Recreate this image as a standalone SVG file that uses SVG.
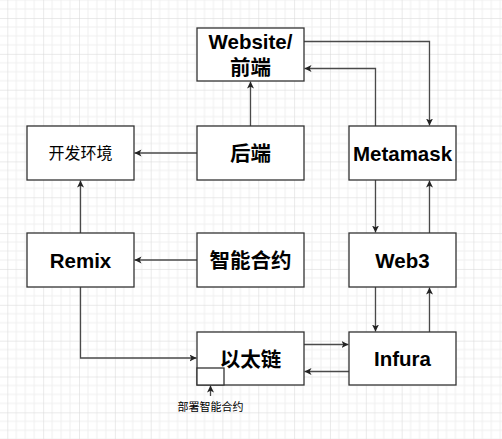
<svg xmlns="http://www.w3.org/2000/svg" width="502" height="439" viewBox="0 0 502 439">
<style>
.box{fill:#fff;stroke:#333;stroke-width:1.3}
.t{font-family:"Liberation Sans","Noto Sans CJK SC",sans-serif;font-weight:bold;font-size:20.5px;fill:#000;text-anchor:middle}
.s{font-family:"Liberation Sans","Noto Sans CJK SC",sans-serif;font-size:16px;fill:#000;text-anchor:middle}
.lbl{font-family:"Liberation Sans","Noto Sans CJK SC",sans-serif;font-size:11px;fill:#000;text-anchor:middle}
.c{fill:none;stroke:#4a4a4a;stroke-width:1.3;marker-end:url(#ah)}
</style>
<defs>
<pattern id="grid" patternUnits="userSpaceOnUse" x="7.3" y="18" width="35.85" height="35.85">
<path d="M8.96,0V35.85M17.93,0V35.85M26.89,0V35.85M0,8.96H35.85M0,17.93H35.85M0,26.89H35.85" stroke="#efefef" stroke-width="1" fill="none"/>
<path d="M0,0V35.85M0,0H35.85" stroke="#d6d6d6" stroke-width="1" fill="none"/>
</pattern>
<marker id="ah" markerUnits="userSpaceOnUse" markerWidth="9" markerHeight="9" refX="7" refY="3.5" orient="auto">
<path d="M0,0L7,3.5L0,7L1.8,3.5z" fill="#222"/>
</marker>
</defs>
<rect x="0" y="0" width="502" height="439" fill="#fff"/>
<rect x="0" y="0" width="502" height="439" fill="url(#grid)"/>
<g id="connectors">
<path class="c" d="M250.5,126V81.5"/>
<path class="c" d="M197,153H134.5"/>
<path class="c" d="M197,260H134.5"/>
<path class="c" d="M80.5,233V180.5"/>
<path class="c" d="M80.5,287V358H196.5"/>
<path class="c" d="M304,41.5H429.5V125.5"/>
<path class="c" d="M375.5,126V68.5H304.5"/>
<path class="c" d="M375.5,180V232.5"/>
<path class="c" d="M429.5,233V180.5"/>
<path class="c" d="M375.5,287V331.5"/>
<path class="c" d="M429.5,332V287.5"/>
<path class="c" d="M304,344.5H348.5"/>
<path class="c" d="M349,371.5H304.5"/>
<path class="c" d="M210.5,396V385.5"/>
</g>
<g id="website"><rect class="box" x="197" y="28" width="107" height="53"/><text class="t" x="250.5" y="48.5">Website/</text><text class="t" x="250.5" y="75">前端</text></g>
<g id="backend"><rect class="box" x="197" y="126" width="107" height="54"/><text class="t" x="250.5" y="161">后端</text></g>
<g id="devenv"><rect class="box" x="27" y="126" width="107" height="54"/><text class="s" x="80.5" y="159">开发环境</text></g>
<g id="metamask"><rect class="box" x="349" y="126" width="107" height="54"/><text class="t" x="402.5" y="160.5">Metamask</text></g>
<g id="remix"><rect class="box" x="27" y="233" width="107" height="54"/><text class="t" x="80.5" y="267.5">Remix</text></g>
<g id="contract"><rect class="box" x="197" y="233" width="107" height="54"/><text class="t" x="250.5" y="268">智能合约</text></g>
<g id="web3"><rect class="box" x="349" y="233" width="107" height="54"/><text class="t" x="402.5" y="267.5">Web3</text></g>
<g id="chain"><rect class="box" x="197" y="332" width="107" height="53"/><rect class="box" x="197" y="368" width="27" height="17"/><text class="t" x="250.5" y="366.5">以太链</text></g>
<g id="infura"><rect class="box" x="349" y="332" width="107" height="53"/><text class="t" x="402.5" y="366">Infura</text></g>
<g id="deploy-label"><text class="lbl" x="210.5" y="411">部署智能合约</text></g>
</svg>
